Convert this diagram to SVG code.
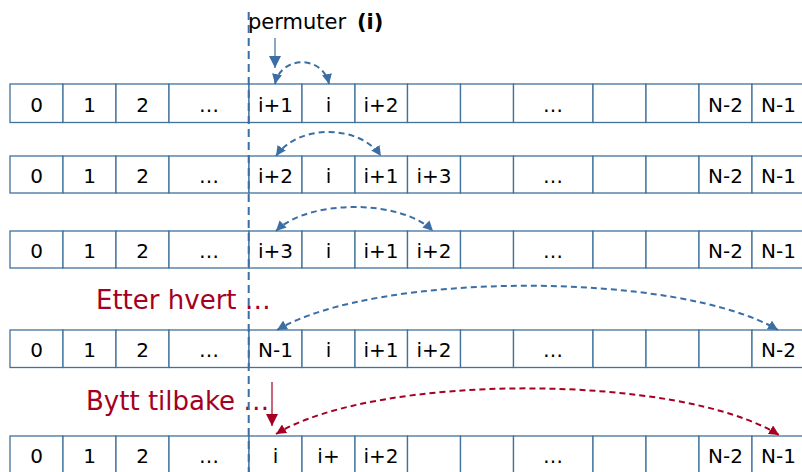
<svg xmlns="http://www.w3.org/2000/svg" width="802" height="472" viewBox="0 0 802 472">
<style>
.c{fill:#fff;stroke:#41719c;stroke-width:1.3}
.t{font-family:"DejaVu Sans",Verdana,sans-serif;font-size:20px;fill:#000;text-anchor:middle}
.lbl{font-family:"DejaVu Sans",Verdana,sans-serif;font-size:26px;fill:#a50021}
.bd{fill:none;stroke:#3a6ea5;stroke-width:2;stroke-dasharray:6 4}
.rd{fill:none;stroke:#a50021;stroke-width:2;stroke-dasharray:6 4}
</style>
<defs>
<marker id="ab" viewBox="0 0 10 10" refX="10" refY="5" markerWidth="10" markerHeight="10" markerUnits="userSpaceOnUse" orient="auto-start-reverse"><path d="M0,0L10,5L0,10z" fill="#3a6ea5"/></marker>
<marker id="ar" viewBox="0 0 10 10" refX="10" refY="5" markerWidth="10" markerHeight="10" markerUnits="userSpaceOnUse" orient="auto-start-reverse"><path d="M0,0L10,5L0,10z" fill="#a50021"/></marker>
<marker id="abL" viewBox="0 0 10 10" refX="10" refY="5" markerWidth="12" markerHeight="13" markerUnits="userSpaceOnUse" orient="auto"><path d="M0,0L10,5L0,10z" fill="#3a6ea5"/></marker>
<marker id="arL" viewBox="0 0 10 10" refX="10" refY="5" markerWidth="12" markerHeight="13" markerUnits="userSpaceOnUse" orient="auto"><path d="M0,0L10,5L0,10z" fill="#a50021"/></marker>
</defs>

<g id="row1">
<rect class="c" x="10" y="84" width="53" height="38.5"/><rect class="c" x="63" y="84" width="53" height="38.5"/><rect class="c" x="116" y="84" width="53" height="38.5"/><rect class="c" x="169" y="84" width="80" height="38.5"/><rect class="c" x="249" y="84" width="53" height="38.5"/><rect class="c" x="302" y="84" width="53" height="38.5"/><rect class="c" x="355" y="84" width="52.5" height="38.5"/><rect class="c" x="407.5" y="84" width="53" height="38.5"/><rect class="c" x="460.5" y="84" width="53" height="38.5"/><rect class="c" x="513.5" y="84" width="79.5" height="38.5"/><rect class="c" x="593" y="84" width="53" height="38.5"/><rect class="c" x="646" y="84" width="53" height="38.5"/><rect class="c" x="699" y="84" width="53" height="38.5"/><rect class="c" x="752" y="84" width="53" height="38.5"/>
<text class="t" y="111.5"><tspan x="36.5">0</tspan><tspan x="89.5">1</tspan><tspan x="142.5">2</tspan><tspan x="209">…</tspan><tspan x="275.5">i+1</tspan><tspan x="328.5">i</tspan><tspan x="381">i+2</tspan><tspan x="553">…</tspan><tspan x="725.5">N-2</tspan><tspan x="778.5">N-1</tspan></text>
</g>

<g id="row2">
<rect class="c" x="10" y="156" width="53" height="37"/><rect class="c" x="63" y="156" width="53" height="37"/><rect class="c" x="116" y="156" width="53" height="37"/><rect class="c" x="169" y="156" width="80" height="37"/><rect class="c" x="249" y="156" width="53" height="37"/><rect class="c" x="302" y="156" width="53" height="37"/><rect class="c" x="355" y="156" width="52.5" height="37"/><rect class="c" x="407.5" y="156" width="53" height="37"/><rect class="c" x="460.5" y="156" width="53" height="37"/><rect class="c" x="513.5" y="156" width="79.5" height="37"/><rect class="c" x="593" y="156" width="53" height="37"/><rect class="c" x="646" y="156" width="53" height="37"/><rect class="c" x="699" y="156" width="53" height="37"/><rect class="c" x="752" y="156" width="53" height="37"/>
<text class="t" y="183.3"><tspan x="36.5">0</tspan><tspan x="89.5">1</tspan><tspan x="142.5">2</tspan><tspan x="209">…</tspan><tspan x="275.5">i+2</tspan><tspan x="328.5">i</tspan><tspan x="381">i+1</tspan><tspan x="434">i+3</tspan><tspan x="553">…</tspan><tspan x="725.5">N-2</tspan><tspan x="778.5">N-1</tspan></text>
</g>

<g id="row3">
<rect class="c" x="10" y="231" width="53" height="37"/><rect class="c" x="63" y="231" width="53" height="37"/><rect class="c" x="116" y="231" width="53" height="37"/><rect class="c" x="169" y="231" width="80" height="37"/><rect class="c" x="249" y="231" width="53" height="37"/><rect class="c" x="302" y="231" width="53" height="37"/><rect class="c" x="355" y="231" width="52.5" height="37"/><rect class="c" x="407.5" y="231" width="53" height="37"/><rect class="c" x="460.5" y="231" width="53" height="37"/><rect class="c" x="513.5" y="231" width="79.5" height="37"/><rect class="c" x="593" y="231" width="53" height="37"/><rect class="c" x="646" y="231" width="53" height="37"/><rect class="c" x="699" y="231" width="53" height="37"/><rect class="c" x="752" y="231" width="53" height="37"/>
<text class="t" y="258.3"><tspan x="36.5">0</tspan><tspan x="89.5">1</tspan><tspan x="142.5">2</tspan><tspan x="209">…</tspan><tspan x="275.5">i+3</tspan><tspan x="328.5">i</tspan><tspan x="381">i+1</tspan><tspan x="434">i+2</tspan><tspan x="553">…</tspan><tspan x="725.5">N-2</tspan><tspan x="778.5">N-1</tspan></text>
</g>

<g id="row4">
<rect class="c" x="10" y="330" width="53" height="37.5"/><rect class="c" x="63" y="330" width="53" height="37.5"/><rect class="c" x="116" y="330" width="53" height="37.5"/><rect class="c" x="169" y="330" width="80" height="37.5"/><rect class="c" x="249" y="330" width="53" height="37.5"/><rect class="c" x="302" y="330" width="53" height="37.5"/><rect class="c" x="355" y="330" width="52.5" height="37.5"/><rect class="c" x="407.5" y="330" width="53" height="37.5"/><rect class="c" x="460.5" y="330" width="53" height="37.5"/><rect class="c" x="513.5" y="330" width="79.5" height="37.5"/><rect class="c" x="593" y="330" width="53" height="37.5"/><rect class="c" x="646" y="330" width="53" height="37.5"/><rect class="c" x="699" y="330" width="53" height="37.5"/><rect class="c" x="752" y="330" width="53" height="37.5"/>
<text class="t" y="357"><tspan x="36.5">0</tspan><tspan x="89.5">1</tspan><tspan x="142.5">2</tspan><tspan x="209">…</tspan><tspan x="275.5">N-1</tspan><tspan x="328.5">i</tspan><tspan x="381">i+1</tspan><tspan x="434">i+2</tspan><tspan x="553">…</tspan><tspan x="778.5">N-2</tspan></text>
</g>

<g id="row5">
<rect class="c" x="10" y="436" width="53" height="40"/><rect class="c" x="63" y="436" width="53" height="40"/><rect class="c" x="116" y="436" width="53" height="40"/><rect class="c" x="169" y="436" width="80" height="40"/><rect class="c" x="249" y="436" width="53" height="40"/><rect class="c" x="302" y="436" width="53" height="40"/><rect class="c" x="355" y="436" width="52.5" height="40"/><rect class="c" x="407.5" y="436" width="53" height="40"/><rect class="c" x="460.5" y="436" width="53" height="40"/><rect class="c" x="513.5" y="436" width="79.5" height="40"/><rect class="c" x="593" y="436" width="53" height="40"/><rect class="c" x="646" y="436" width="53" height="40"/><rect class="c" x="699" y="436" width="53" height="40"/><rect class="c" x="752" y="436" width="53" height="40"/>
<text class="t" y="463"><tspan x="36.5">0</tspan><tspan x="89.5">1</tspan><tspan x="142.5">2</tspan><tspan x="209">…</tspan><tspan x="275.5">i</tspan><tspan x="328.5">i+</tspan><tspan x="381">i+2</tspan><tspan x="553">…</tspan><tspan x="725.5">N-2</tspan><tspan x="778.5">N-1</tspan></text>
</g>

<g id="labels">
<text x="248" y="29" font-family="DejaVu Sans,Verdana,sans-serif" font-size="21" fill="#000">permuter <tspan x="357" font-weight="bold">(i)</tspan></text>
<text class="lbl" x="96" y="309">Etter hvert …</text>
<text class="lbl" x="86" y="410">Bytt tilbake …</text>
</g>

<g id="connectors">
<line x1="248.7" y1="12" x2="248.7" y2="472" stroke="#3a6ea5" stroke-width="2" stroke-dasharray="8 5"/>
<line x1="275" y1="38" x2="275" y2="68" stroke="#3a6ea5" stroke-width="1.2" marker-end="url(#abL)"/>
<path class="bd" d="M275,84 C281,55 323,55 329,84" marker-start="url(#ab)" marker-end="url(#ab)"/>
<path class="bd" d="M276,156 C298,124 359,124 381,156" marker-start="url(#ab)" marker-end="url(#ab)"/>
<path class="bd" d="M276,231 C308,199 401,199 433,231" marker-start="url(#ab)" marker-end="url(#ab)"/>
<path class="bd" d="M277,330 C377,271 678,271 778,330" marker-start="url(#ab)" marker-end="url(#ab)"/>
<line x1="272" y1="382" x2="272" y2="426" stroke="#a50021" stroke-width="1.2" marker-end="url(#arL)"/>
<path class="rd" d="M276,434 C376,373 679,373 779,435" marker-start="url(#ar)" marker-end="url(#ar)"/>
</g>
</svg>
